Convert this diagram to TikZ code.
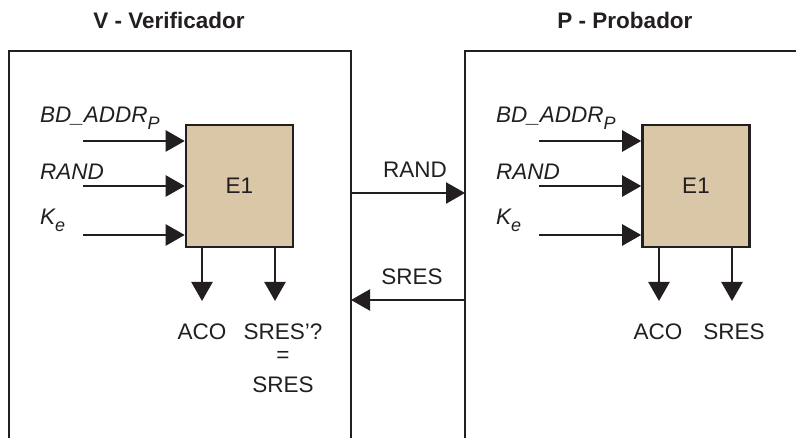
\documentclass[tikz,border=0pt]{standalone}
\usepackage{fontspec}
\setmainfont{Liberation Sans}
\usetikzlibrary{arrows.meta}
\definecolor{ink}{HTML}{231F20}
\definecolor{tan}{HTML}{D9C7A7}
\newcommand{\mysub}[1]{\raisebox{-0.3em}{\fontsize{18}{20}\selectfont #1}}
\begin{document}
\begin{tikzpicture}[x=1pt,y=-1pt,
  every node/.style={font=\fontsize{22.5}{26}\selectfont, text=ink, inner sep=0pt},
  frame/.style={draw=ink, line width=2.2pt},
  ebox/.style={draw=ink, line width=2.6pt, fill=tan, minimum width=107pt, minimum height=122pt},
  arr/.style={draw=ink, line width=2.4pt, -{Triangle[length=19pt,width=21pt]}},
  lab/.style={font=\fontsize{22.5}{26}\selectfont\itshape, anchor=west},
  ttl/.style={font=\fontsize{22.5}{26}\selectfont\bfseries}]
\useasboundingbox (0,0) rectangle (796,438);
% titles
\node[ttl] (tv) at (169,20) {V - Verificador};
\node[ttl] (tp) at (625,20) {P - Probador};
% frames
\draw[frame] (9,440) -- (9,51) -- (351,51) -- (351,440);
\draw[frame] (465,440) -- (465,51) -- (800,51);
% E1 boxes
\node[ebox] (e1v) at (239.5,186) {E1};
\node[ebox] (e1p) at (696,186) {E1};
% left inputs
\coordinate (iv1) at (83,141);
\coordinate (iv2) at (83,186);
\coordinate (iv3) at (83,235);
\draw[arr] (iv1) -- (iv1 -| e1v.west);
\draw[arr] (iv2) -- (iv2 -| e1v.west);
\draw[arr] (iv3) -- (iv3 -| e1v.west);
\node[lab] (lv1) at (40,118) {BD\_ADDR\mysub{P}};
\node[lab] (lv2) at (40,172) {RAND};
\node[lab] (lv3) at (40,220) {K\mysub{e}};
% right inputs
\coordinate (ip1) at (539,141);
\coordinate (ip2) at (539,186);
\coordinate (ip3) at (539,235);
\draw[arr] (ip1) -- (ip1 -| e1p.west);
\draw[arr] (ip2) -- (ip2 -| e1p.west);
\draw[arr] (ip3) -- (ip3 -| e1p.west);
\node[lab] (lp1) at (496,118) {BD\_ADDR\mysub{P}};
\node[lab] (lp2) at (496,172) {RAND};
\node[lab] (lp3) at (496,220) {K\mysub{e}};
% left outputs
\coordinate (ov1) at (202,301);
\coordinate (ov2) at (275,301);
\draw[arr] (ov1 |- e1v.south) -- (ov1);
\draw[arr] (ov2 |- e1v.south) -- (ov2);
\node (aco1) at (202,332) {ACO};
\node (sres1) at (283,332) {SRES’?};
\node (eq) at (283,357) {=};
\node (sres2) at (283,385) {SRES};
% right outputs
\coordinate (op1) at (659,301);
\coordinate (op2) at (732,301);
\draw[arr] (op1 |- e1p.south) -- (op1);
\draw[arr] (op2 |- e1p.south) -- (op2);
\node (aco2) at (658,332) {ACO};
\node (sres3) at (734,332) {SRES};
% middle
\coordinate (mv1) at (351,193);
\coordinate (mp1) at (465,193);
\coordinate (mv2) at (351,300);
\coordinate (mp2) at (465,300);
\draw[arr] (mv1) -- (mp1);
\draw[arr] (mp2) -- (mv2);
\node (mrand) at (415,170) {RAND};
\node (msres) at (412,277) {SRES};
\end{tikzpicture}
\end{document}
